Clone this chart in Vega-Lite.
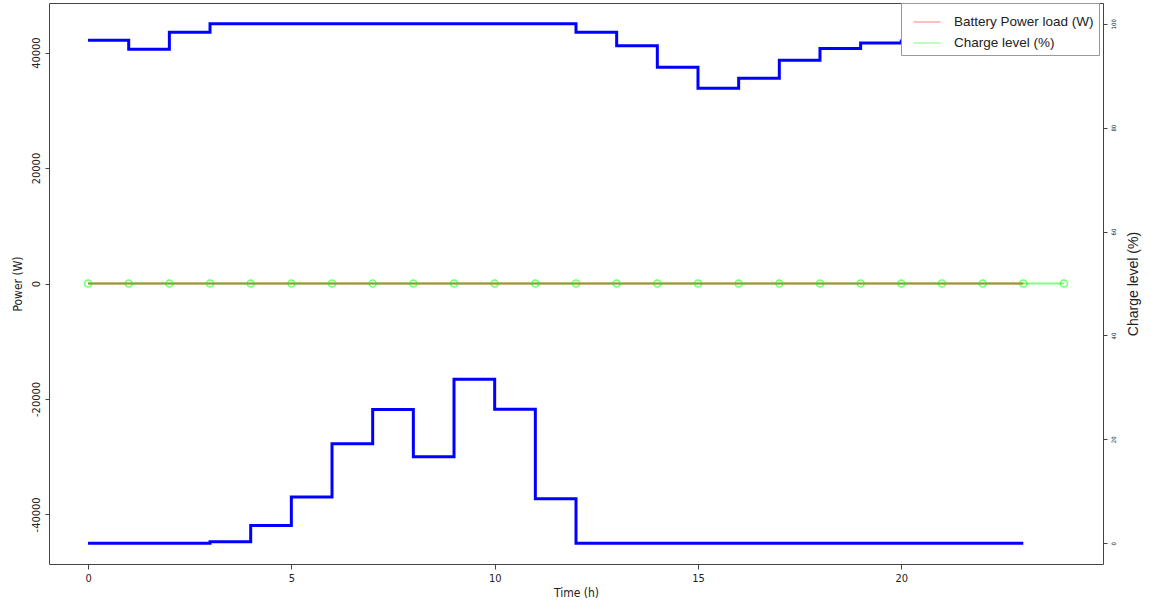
{
  "$schema": "https://vega.github.io/schema/vega-lite/v6.json",
  "autosize": "none",
  "width": 1054,
  "height": 561,
  "padding": {"left": 49, "top": 3, "right": 48, "bottom": 39},
  "background": "white",
  "config": {
    "view": {"stroke": "#444", "strokeWidth": 1},
    "font": "Liberation Sans",
    "axis": {"domain": false, "grid": false, "tickColor": "#444", "tickSize": 5, "labelColor": "#222", "titleColor": "#222", "titleFontWeight": "normal", "labelFont": "Liberation Sans Narrow, DejaVu Sans Condensed, Liberation Sans", "titleFont": "Liberation Sans Narrow, DejaVu Sans Condensed, Liberation Sans"}
  },
  "datasets": {
    "power": [
      {"hour": 0, "value": 42150, "series": "top"},
      {"hour": 1, "value": 40600, "series": "top"},
      {"hour": 2, "value": 43550, "series": "top"},
      {"hour": 3, "value": 45000, "series": "top"},
      {"hour": 4, "value": 45000, "series": "top"},
      {"hour": 5, "value": 45000, "series": "top"},
      {"hour": 6, "value": 45000, "series": "top"},
      {"hour": 7, "value": 45000, "series": "top"},
      {"hour": 8, "value": 45000, "series": "top"},
      {"hour": 9, "value": 45000, "series": "top"},
      {"hour": 10, "value": 45000, "series": "top"},
      {"hour": 11, "value": 45000, "series": "top"},
      {"hour": 12, "value": 43550, "series": "top"},
      {"hour": 13, "value": 41200, "series": "top"},
      {"hour": 14, "value": 37450, "series": "top"},
      {"hour": 15, "value": 33850, "series": "top"},
      {"hour": 16, "value": 35550, "series": "top"},
      {"hour": 17, "value": 38700, "series": "top"},
      {"hour": 18, "value": 40700, "series": "top"},
      {"hour": 19, "value": 41650, "series": "top"},
      {"hour": 20, "value": 42000, "series": "top"},
      {"hour": 21, "value": 42500, "series": "top"},
      {"hour": 22, "value": 43000, "series": "top"},
      {"hour": 23, "value": 42000, "series": "top"},
      {"hour": 0, "value": -45000, "series": "bottom"},
      {"hour": 1, "value": -45000, "series": "bottom"},
      {"hour": 2, "value": -45000, "series": "bottom"},
      {"hour": 3, "value": -44750, "series": "bottom"},
      {"hour": 4, "value": -41950, "series": "bottom"},
      {"hour": 5, "value": -37000, "series": "bottom"},
      {"hour": 6, "value": -27750, "series": "bottom"},
      {"hour": 7, "value": -21850, "series": "bottom"},
      {"hour": 8, "value": -30000, "series": "bottom"},
      {"hour": 9, "value": -16600, "series": "bottom"},
      {"hour": 10, "value": -21800, "series": "bottom"},
      {"hour": 11, "value": -37300, "series": "bottom"},
      {"hour": 12, "value": -45000, "series": "bottom"},
      {"hour": 13, "value": -45000, "series": "bottom"},
      {"hour": 14, "value": -45000, "series": "bottom"},
      {"hour": 15, "value": -45000, "series": "bottom"},
      {"hour": 16, "value": -45000, "series": "bottom"},
      {"hour": 17, "value": -45000, "series": "bottom"},
      {"hour": 18, "value": -45000, "series": "bottom"},
      {"hour": 19, "value": -45000, "series": "bottom"},
      {"hour": 20, "value": -45000, "series": "bottom"},
      {"hour": 21, "value": -45000, "series": "bottom"},
      {"hour": 22, "value": -45000, "series": "bottom"},
      {"hour": 23, "value": -45000, "series": "bottom"}
    ],
    "load": [
      {"hour": 0, "value": 0, "name": "Battery Power load (W)"},
      {"hour": 1, "value": 0, "name": "Battery Power load (W)"},
      {"hour": 2, "value": 0, "name": "Battery Power load (W)"},
      {"hour": 3, "value": 0, "name": "Battery Power load (W)"},
      {"hour": 4, "value": 0, "name": "Battery Power load (W)"},
      {"hour": 5, "value": 0, "name": "Battery Power load (W)"},
      {"hour": 6, "value": 0, "name": "Battery Power load (W)"},
      {"hour": 7, "value": 0, "name": "Battery Power load (W)"},
      {"hour": 8, "value": 0, "name": "Battery Power load (W)"},
      {"hour": 9, "value": 0, "name": "Battery Power load (W)"},
      {"hour": 10, "value": 0, "name": "Battery Power load (W)"},
      {"hour": 11, "value": 0, "name": "Battery Power load (W)"},
      {"hour": 12, "value": 0, "name": "Battery Power load (W)"},
      {"hour": 13, "value": 0, "name": "Battery Power load (W)"},
      {"hour": 14, "value": 0, "name": "Battery Power load (W)"},
      {"hour": 15, "value": 0, "name": "Battery Power load (W)"},
      {"hour": 16, "value": 0, "name": "Battery Power load (W)"},
      {"hour": 17, "value": 0, "name": "Battery Power load (W)"},
      {"hour": 18, "value": 0, "name": "Battery Power load (W)"},
      {"hour": 19, "value": 0, "name": "Battery Power load (W)"},
      {"hour": 20, "value": 0, "name": "Battery Power load (W)"},
      {"hour": 21, "value": 0, "name": "Battery Power load (W)"},
      {"hour": 22, "value": 0, "name": "Battery Power load (W)"},
      {"hour": 23, "value": 0, "name": "Battery Power load (W)"}
    ],
    "charge": [
      {"hour": 0, "level": 50, "name": "Charge level (%)"},
      {"hour": 1, "level": 50, "name": "Charge level (%)"},
      {"hour": 2, "level": 50, "name": "Charge level (%)"},
      {"hour": 3, "level": 50, "name": "Charge level (%)"},
      {"hour": 4, "level": 50, "name": "Charge level (%)"},
      {"hour": 5, "level": 50, "name": "Charge level (%)"},
      {"hour": 6, "level": 50, "name": "Charge level (%)"},
      {"hour": 7, "level": 50, "name": "Charge level (%)"},
      {"hour": 8, "level": 50, "name": "Charge level (%)"},
      {"hour": 9, "level": 50, "name": "Charge level (%)"},
      {"hour": 10, "level": 50, "name": "Charge level (%)"},
      {"hour": 11, "level": 50, "name": "Charge level (%)"},
      {"hour": 12, "level": 50, "name": "Charge level (%)"},
      {"hour": 13, "level": 50, "name": "Charge level (%)"},
      {"hour": 14, "level": 50, "name": "Charge level (%)"},
      {"hour": 15, "level": 50, "name": "Charge level (%)"},
      {"hour": 16, "level": 50, "name": "Charge level (%)"},
      {"hour": 17, "level": 50, "name": "Charge level (%)"},
      {"hour": 18, "level": 50, "name": "Charge level (%)"},
      {"hour": 19, "level": 50, "name": "Charge level (%)"},
      {"hour": 20, "level": 50, "name": "Charge level (%)"},
      {"hour": 21, "level": 50, "name": "Charge level (%)"},
      {"hour": 22, "level": 50, "name": "Charge level (%)"},
      {"hour": 23, "level": 50, "name": "Charge level (%)"},
      {"hour": 24, "level": 50, "name": "Charge level (%)"}
    ]
  },
  "encoding": {
    "x": {
      "field": "hour", "type": "quantitative",
      "scale": {"domain": [-0.96, 24.96], "nice": false, "zero": false},
      "axis": {"title": "Time (h)", "values": [0, 5, 10, 15, 20], "labelFontSize": 11, "titleFontSize": 12, "labelPadding": 3, "titlePadding": 4, "tickSize": 5}
    }
  },
  "layer": [
    {
      "layer": [
        {
          "data": {"name": "power"},
          "mark": {"type": "line", "interpolate": "step-after", "color": "#0000ff", "strokeWidth": 3},
          "encoding": {
            "y": {
              "field": "value", "type": "quantitative",
              "scale": {"domain": [-48600, 48600], "nice": false, "zero": false},
              "axis": {"title": "Power (W)", "orient": "left", "values": [-40000, -20000, 0, 20000, 40000], "labelExpr": "'' + datum.value", "labelAngle": 270, "labelAlign": "center", "labelBaseline": "bottom", "labelFontSize": 11, "labelPadding": 4, "tickSize": 4, "titleFontSize": 12, "titlePadding": 6}
            },
            "detail": {"field": "series"}
          }
        },
        {
          "data": {"name": "load"},
          "mark": {"type": "line", "interpolate": "step-after", "strokeWidth": 2, "opacity": 0.7},
          "encoding": {
            "y": {"field": "value", "type": "quantitative"},
            "color": {
              "field": "name", "type": "nominal",
              "scale": {"domain": ["Battery Power load (W)", "Charge level (%)"], "range": ["#ff0000", "#00ff00"]},
              "legend": {
                "title": null, "orient": "none", "legendX": 852, "legendY": 0,
                "symbolType": "stroke", "symbolSize": 729, "symbolStrokeWidth": 1, "symbolOpacity": 0.4, "symbolOffset": 7,
                "labelFontSize": 13.5, "labelFont": "Liberation Sans", "labelColor": "#222", "labelOffset": 13, "labelLimit": 400,
                "fillColor": "white", "strokeColor": "#999", "padding": 5, "rowPadding": -10,
                "cornerRadius": 0
              }
            }
          }
        }
      ]
    },
    {
      "layer": [
        {
          "data": {"name": "charge"},
          "mark": {"type": "line", "strokeWidth": 2, "opacity": 0.5},
          "encoding": {
            "y": {
              "field": "level", "type": "quantitative",
              "scale": {"domain": [-4, 104], "nice": false, "zero": false},
              "axis": {"title": "Charge level (%)", "orient": "right", "values": [0, 20, 40, 60, 80, 100], "labelAngle": 270, "labelAlign": "center", "labelBaseline": "top", "labelFontSize": 6, "labelPadding": 3, "tickSize": 4, "titleFontSize": 14, "titleFont": "Liberation Sans", "titleAngle": 270, "titleBaseline": "top", "titlePadding": 10}
            },
            "color": {"field": "name", "type": "nominal"}
          }
        },
        {
          "data": {"name": "charge"},
          "mark": {"type": "point", "shape": "circle", "filled": false, "color": "#00ff00", "opacity": 0.55, "size": 50, "strokeWidth": 1.5},
          "encoding": {
            "y": {"field": "level", "type": "quantitative"}
          }
        }
      ]
    }
  ],
  "resolve": {"scale": {"y": "independent"}}
}
